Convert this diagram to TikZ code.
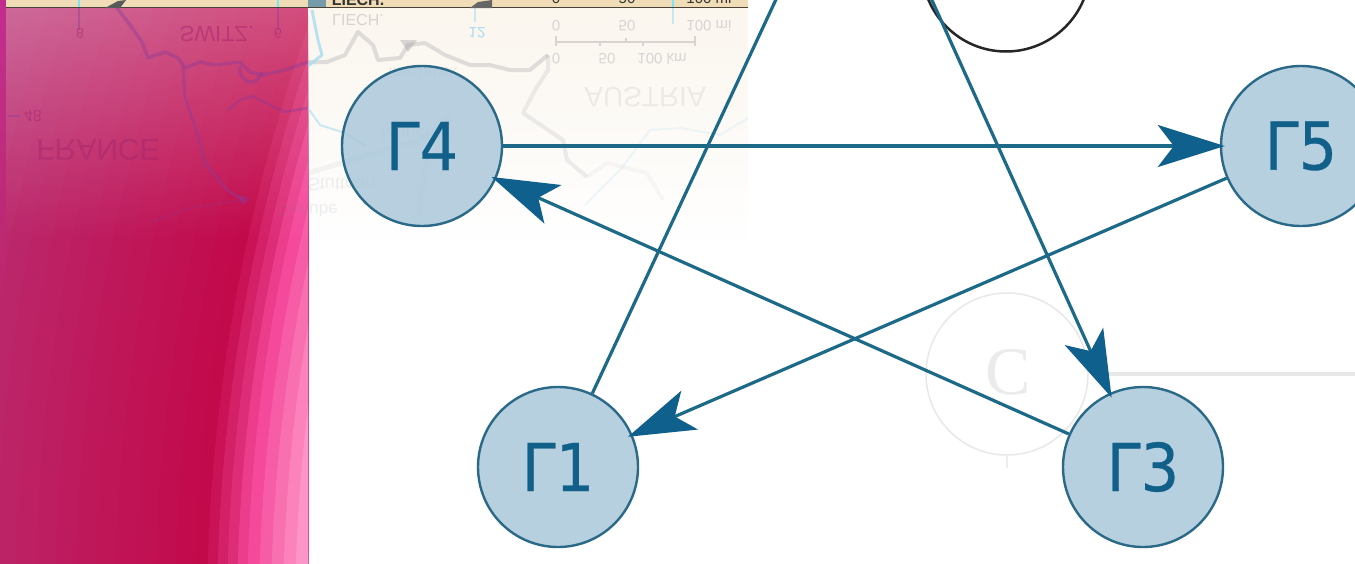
\documentclass[tikz,border=0pt]{standalone}
\usepackage{fontspec}
\setmainfont{DejaVu Sans}
\newfontfamily\gammafont[FakeBold=0.5]{DejaVu Sans}
\newfontfamily\mapfont{Liberation Sans}
\newfontfamily\serifmark{Liberation Serif}
\usetikzlibrary{arrows.meta,fadings}
\definecolor{crim}{HTML}{C2094A}
\definecolor{purp}{HTML}{B8357A}
\definecolor{pinkA}{HTML}{F54A9C}
\definecolor{pinkB}{HTML}{FFA8D0}
\definecolor{tan}{HTML}{F0DDB8}
\definecolor{cream}{HTML}{FBF6EE}
\definecolor{edgeblue}{HTML}{1C6A88}
\definecolor{headblue}{HTML}{0F608C}
\definecolor{nodefill}{HTML}{ABC8DB}
\definecolor{nodeline}{HTML}{2A6A88}
\definecolor{nodetext}{HTML}{10608A}
\definecolor{ghostline}{HTML}{85858F}
\definecolor{ghostriver}{HTML}{A8DDF2}
\definecolor{pinkghost}{HTML}{8A3A9A}
\definecolor{pinkletter}{HTML}{A8286E}
\tikzfading[name=mapfade,top color=transparent!0,bottom color=transparent!100]
\tikzfading[name=lightfade,top color=transparent!72,bottom color=transparent!100]
\tikzset{
  x=1pt,y=-1pt,
  gamma/.style={circle,draw=nodeline,line width=2.4pt,fill=nodefill,fill opacity=.85,text opacity=1,
    minimum size=160pt,inner sep=0pt,text=nodetext,font=\gammafont\fontsize{66}{66}\selectfont},
  edgeline/.style={draw=edgeblue,line width=3.2pt,
    -{Stealth[length=67pt,width=42pt,inset=16pt,color=headblue]},shorten >=-5pt},
  plainline/.style={draw=edgeblue,line width=3.2pt},
  ghosttext/.style={yscale=-1,transform shape,inner sep=0pt,text=ghostline,text opacity=.3,font=\mapfont\fontsize{#1}{#1}\selectfont},
  ghosttext/.default=18,
  ghostfaint/.style={yscale=-1,transform shape,inner sep=0pt,text=ghostline,text opacity=.13,font=\mapfont\fontsize{#1}{#1}\selectfont},
  ghostpink/.style={yscale=-1,transform shape,inner sep=0pt,text=pinkletter,text opacity=.55,font=\mapfont\fontsize{#1}{#1}\selectfont},
  stripetext/.style={inner sep=0pt,anchor=base,text=black!80,font=\mapfont\bfseries\fontsize{16}{16}\selectfont},
  ghostborder/.style={draw=ghostline,opacity=.24,line width=4pt,line join=round},
  pinkborder/.style={draw=pinkghost,opacity=.4,line width=3.5pt,line join=round},
  ghostblue/.style={draw=ghostriver,opacity=.6,line width=2pt,line join=round},
  pinkblue/.style={draw=pinkghost,opacity=.4,line width=2pt},
  thinscale/.style={draw=ghostline,opacity=.3,line width=2pt},
}
\begin{document}
\begin{tikzpicture}
\useasboundingbox[clip] (0,0) rectangle (1355,563);
\fill[white] (0,0) rectangle (1355,563);
% magenta panel, built of concentric bands
\begin{scope}
  \clip (0,0) rectangle (308,563);
  \fill[purp] (0,0) rectangle (308,563);
  \foreach \r in {2120,2100,...,1780}{
    \pgfmathsetmacro{\p}{(2120-\r)/3.4}
    \fill[crim!\p!purp] (1975,618) circle[radius=\r];
  }
  \foreach \r/\p in {1768/15,1758/35,1748/55,1738/80,1728/100}{
    \fill[pinkA!\p!crim] (1975,618) circle[radius=\r];
  }
  \foreach \r/\p in {1716/20,1704/40,1692/60,1680/80,1668/100}{
    \fill[pinkB!\p!pinkA] (1975,618) circle[radius=\r];
  }
  \fill[white,path fading=lightfade] (6,8) rectangle (308,240);
  % reflected lines seen on the panel
  \draw[pinkborder] (117,8) -- (130,25) -- (142,42) -- (148,58) -- (165,52) -- (178,58) -- (185,68) -- (200,62) -- (215,65) -- (240,62) -- (250,72) -- (262,75) -- (285,70) -- (308,62);
  \draw[pinkborder,line width=3pt] (183,67) -- (185,97) -- (197,133) -- (205,163) -- (227,190) -- (243,200);
  \draw[pinkborder,line width=2pt,opacity=.2] (243,200) -- (190,208) -- (150,222);
  \fill[pinkghost,opacity=.4] (238,195) -- (250,198) -- (243,206) -- cycle;
  \draw[pinkborder,line width=3.5pt] (240,66) .. controls (238,84) and (258,88) .. (262,72);
  \draw[pinkborder,line width=2.5pt] (228,110) -- (240,100) -- (252,96) -- (270,105) -- (285,112) -- (308,108);
  \draw[pinkblue] (79,8) -- (79,30) (278,8) -- (278,30) (8,116) -- (20,116);
  \node[ghostpink=22] (lSwitz) at (217,34) {SWITZ.};
  \node[ghostpink=30] (lFrance) at (98,150) {FRANCE};
  \node[ghostpink=16] (lDeg48) at (33,116) {48};
  \node[ghostpink=14] (lDeg8) at (80,33) {8};
  \node[ghostpink=14] (lDeg10) at (278,33) {6};
\end{scope}
\fill[purp!85!magenta,path fading=mapfade] (0,0) rectangle (6,300);
% faded cream map
\fill[cream,path fading=mapfade] (308,8) rectangle (748,240);
% reflected map lines on the pale side
\begin{scope}
  \clip (308,8) rectangle (748,240);
  \draw[ghostborder] (308,62) -- (327,62) -- (345,55) -- (358,32) -- (373,45) -- (378,60) -- (400,58) -- (408,45) -- (425,43) -- (445,55) -- (470,65) -- (490,65) -- (510,70) -- (530,70) -- (548,55);
  \draw[ghostborder,opacity=.14] (548,55) -- (548,70) -- (535,90) -- (523,113) -- (563,140) -- (567,160) -- (587,177);
  \draw[ghostborder,opacity=.05] (587,177) -- (607,163) -- (647,173) -- (663,200);
  \fill[ghostline,opacity=.3] (400,40) -- (417,40) -- (408,52) -- cycle;
  \draw[ghostblue] (308,108) -- (320,125) -- (345,133) -- (365,145);
  \draw[ghostblue,opacity=.2] (585,205) -- (620,170) -- (650,130) -- (680,128) -- (720,135) -- (748,118);
  \draw[ghostblue,line width=3pt,opacity=.8] (312,10) -- (318,40) -- (322,55) -- (308,66);
  \draw[ghostline,opacity=.08,line width=5pt] (308,173) -- (345,162) -- (420,140) -- (450,118);
  \draw[ghostline,opacity=.08,line width=5pt] (430,140) -- (418,215);
  \draw[ghostblue] (475,8) -- (475,22);
  \draw[ghostblue] (673,8) -- (673,24);
  % reflected scale bar
  \draw[thinscale] (556,36) -- (556,46) (556,42) -- (695,42) (695,36) -- (695,46) (600,42) -- (600,46) (626,38) -- (626,42) (643,42) -- (643,46);
\end{scope}
% reflected labels
\node[ghosttext=16] (lLiechG) at (358,20) {LIECH.};
\node[ghostfaint=28] (lAustria) at (645,97) {AUSTRIA};
\node[text=ghostriver,yscale=-1,transform shape,inner sep=0pt,font=\mapfont\fontsize{15}{15}\selectfont] (lDeg12) at (477,33) {12};
\node[ghosttext=15] (lZero) at (556,26) {0};
\node[ghosttext=15] (lFifty) at (627,26) {50};
\node[ghosttext=15] (lHundred) at (709,26) {100 mi};
\node[ghosttext=15] (lZeroK) at (556,59) {0};
\node[ghosttext=15] (lFiftyK) at (607,59) {50};
\node[ghosttext=15] (lHundredK) at (662,59) {100 km};
\node[ghostfaint=18] (lMunich) at (418,135) {München};
\node[ghostfaint=18] (lStutt) at (342,183) {Stuttgart};
\node[ghostfaint=16] (lInns) at (423,73) {Innsbruck};
\node[ghostfaint=17] (lDanube) at (308,211) {Danube};
% strip at the top of the map
\fill[tan] (6,0) rectangle (748,7);
\draw[black!70!tan,line width=1.8pt] (6,7.5) -- (748,7.5);
\fill[black!65] (105,8) -- (118,1) -- (126,0) -- (120,8) -- cycle;
\fill[black!60] (470,8) -- (478,2) -- (492,0) -- (492,8) -- cycle;
\fill[ghostriver!70!black] (308,0) rectangle (326,7);
\draw[ghostriver!70!cyan,line width=2.5pt] (79,0) -- (79,7) (278,0) -- (278,7) (673,0) -- (673,7);
\node[stripetext] (tLiech) at (358,5) {LIECH.};
\node[stripetext,font=\mapfont\fontsize{15}{15}\selectfont] (tZero) at (556,3) {0};
\node[stripetext,font=\mapfont\fontsize{15}{15}\selectfont] (tFifty) at (627,3) {50};
\node[stripetext,font=\mapfont\fontsize{15}{15}\selectfont] (tHundred) at (709,3) {100 mi};
% reflected copyright mark
\draw[black!9,line width=1.5pt] (1007,374) circle[radius=81];
\draw[black!7,line width=1.5pt] (1007,455) -- (1007,468);
\draw[black!9,line width=3.5pt] (1108,374) -- (1355,374);
\node[inner sep=0pt,text=black!8,font=\serifmark\fontsize{68}{68}\selectfont] (lCopy) at (1008,372) {C};
% dark circle at the top
\node[circle,draw=black!85,line width=2.5pt,fill=white,minimum size=168pt,inner sep=0pt] (ring) at (1006,-32.5) {};
% the five-pointed figure
\node[gamma] (g1) at (558,467) {\scalebox{.92}[1]{Γ1}};
\node[gamma,opacity=0] (g2) at (855,-170) {};
\node[gamma] (g3) at (1143,467) {\scalebox{.92}[1]{Γ3}};
\node[gamma] (g4) at (422,146) {\scalebox{.92}[1]{Γ4}};
\node[gamma] (g5) at (1301,146) {\scalebox{.92}[1]{Γ5}};
\draw[plainline] (g1) -- (g2);
\draw[edgeline] (g2) -- (g3);
\draw[edgeline] (g3) -- (g4);
\draw[edgeline] (g4) -- (g5);
\draw[edgeline] (g5) -- (g1);
\end{tikzpicture}
\end{document}
